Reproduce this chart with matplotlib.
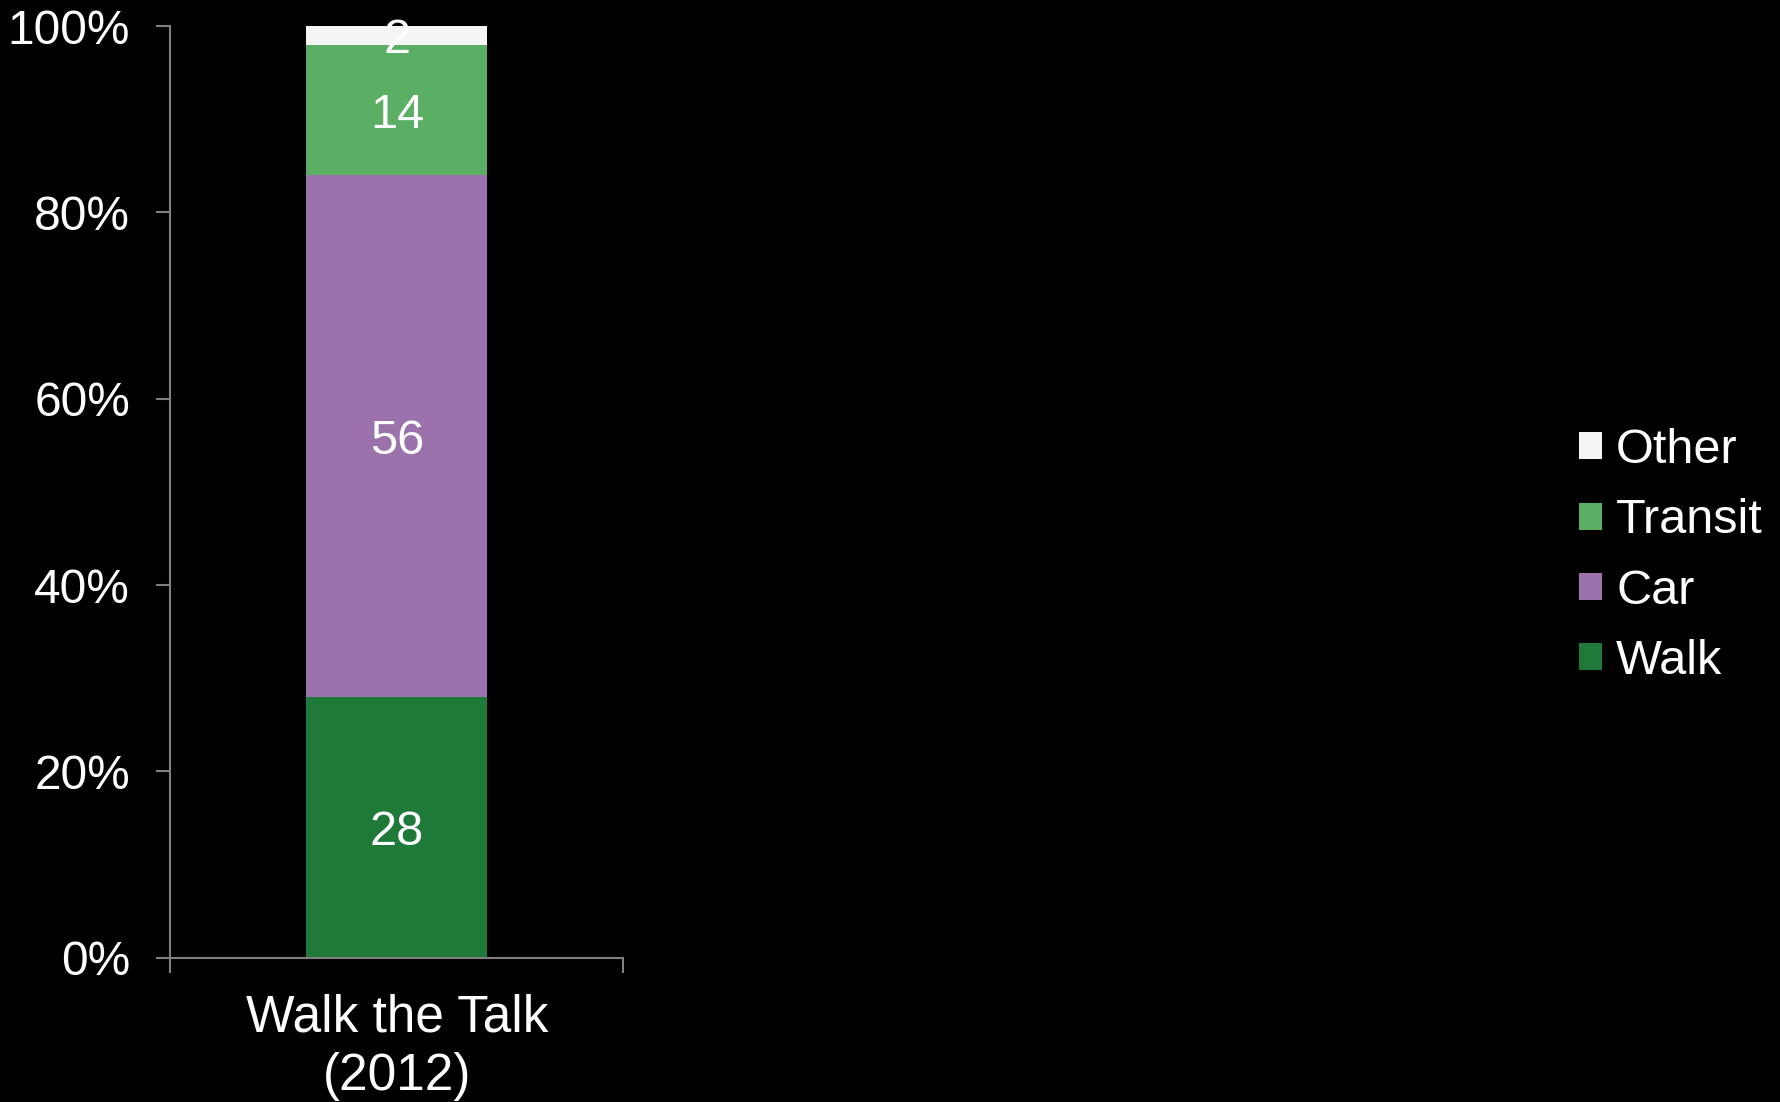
import matplotlib
matplotlib.use("Agg")
import matplotlib.pyplot as plt
from matplotlib.patches import Patch
from matplotlib.ticker import FuncFormatter

plt.rcParams['font.family'] = ['Liberation Sans', 'DejaVu Sans']

categories = ["Walk the Talk\n(2012)"]
modes = ["Walk", "Car", "Transit", "Other"]
walk = [28]
car = [56]
transit = [14]
other = [2]
colors = {"Walk": "#1f7a3a", "Car": "#9b72ac", "Transit": "#5aaf64", "Other": "#f5f5f5"}
yticks = [0, 20, 40, 60, 80, 100]

series = {"Walk": walk, "Car": car, "Transit": transit, "Other": other}

fig = plt.figure(figsize=(17.81, 11.02), dpi=100, facecolor="black")
ax = fig.add_axes([0.0957, 0.131, 0.2543, 0.8453])
ax.set_facecolor("black")

x = list(range(len(categories)))
bottom = [0] * len(categories)
handles = []
for m in modes:
    vals = series[m]
    ax.bar(x, vals, width=0.4, bottom=bottom, color=colors[m], edgecolor="none")
    for xi, v, b in zip(x, vals, bottom):
        ax.annotate(f"{v}", (xi, b + v / 2), xytext=(0, -4), textcoords="offset points",
                    ha="center", va="center", color="white", fontsize=35)
    bottom = [b + v for b, v in zip(bottom, vals)]
    handles.append(Patch(facecolor=colors[m], edgecolor="none", label=m))

ax.set_xlim(-0.5, len(categories) - 0.5)
ax.set_ylim(0, 100)
ax.set_yticks(yticks)
ax.yaxis.set_major_formatter(FuncFormatter(lambda v, p: f"{v:.0f}%"))

ax.set_xticks(x)
ax.set_xticklabels(categories, fontsize=37, color="white", linespacing=1.25)
ax.tick_params(axis="x", length=0, pad=26)
ax.set_xticks([-0.5 + i for i in range(len(categories) + 1)], minor=True)
ax.tick_params(axis="x", which="minor", length=11, width=1.5, color="#808080", direction="out")
ax.tick_params(axis="y", length=10, width=1.5, color="#808080", labelcolor="white",
               labelsize=34.5, pad=19)

for s in ["top", "right"]:
    ax.spines[s].set_visible(False)
for s in ["left", "bottom"]:
    ax.spines[s].set_color("#808080")
    ax.spines[s].set_linewidth(1.5)

leg = fig.legend(handles=handles[::-1], loc="center left", bbox_to_anchor=(0.873, 0.4955),
                 frameon=False, fontsize=35, handlelength=0.48, handleheight=0.48,
                 handletextpad=0.28, labelspacing=0.52, labelcolor="white", borderpad=0)

fig.savefig("out.png", dpi=100, facecolor="black")
